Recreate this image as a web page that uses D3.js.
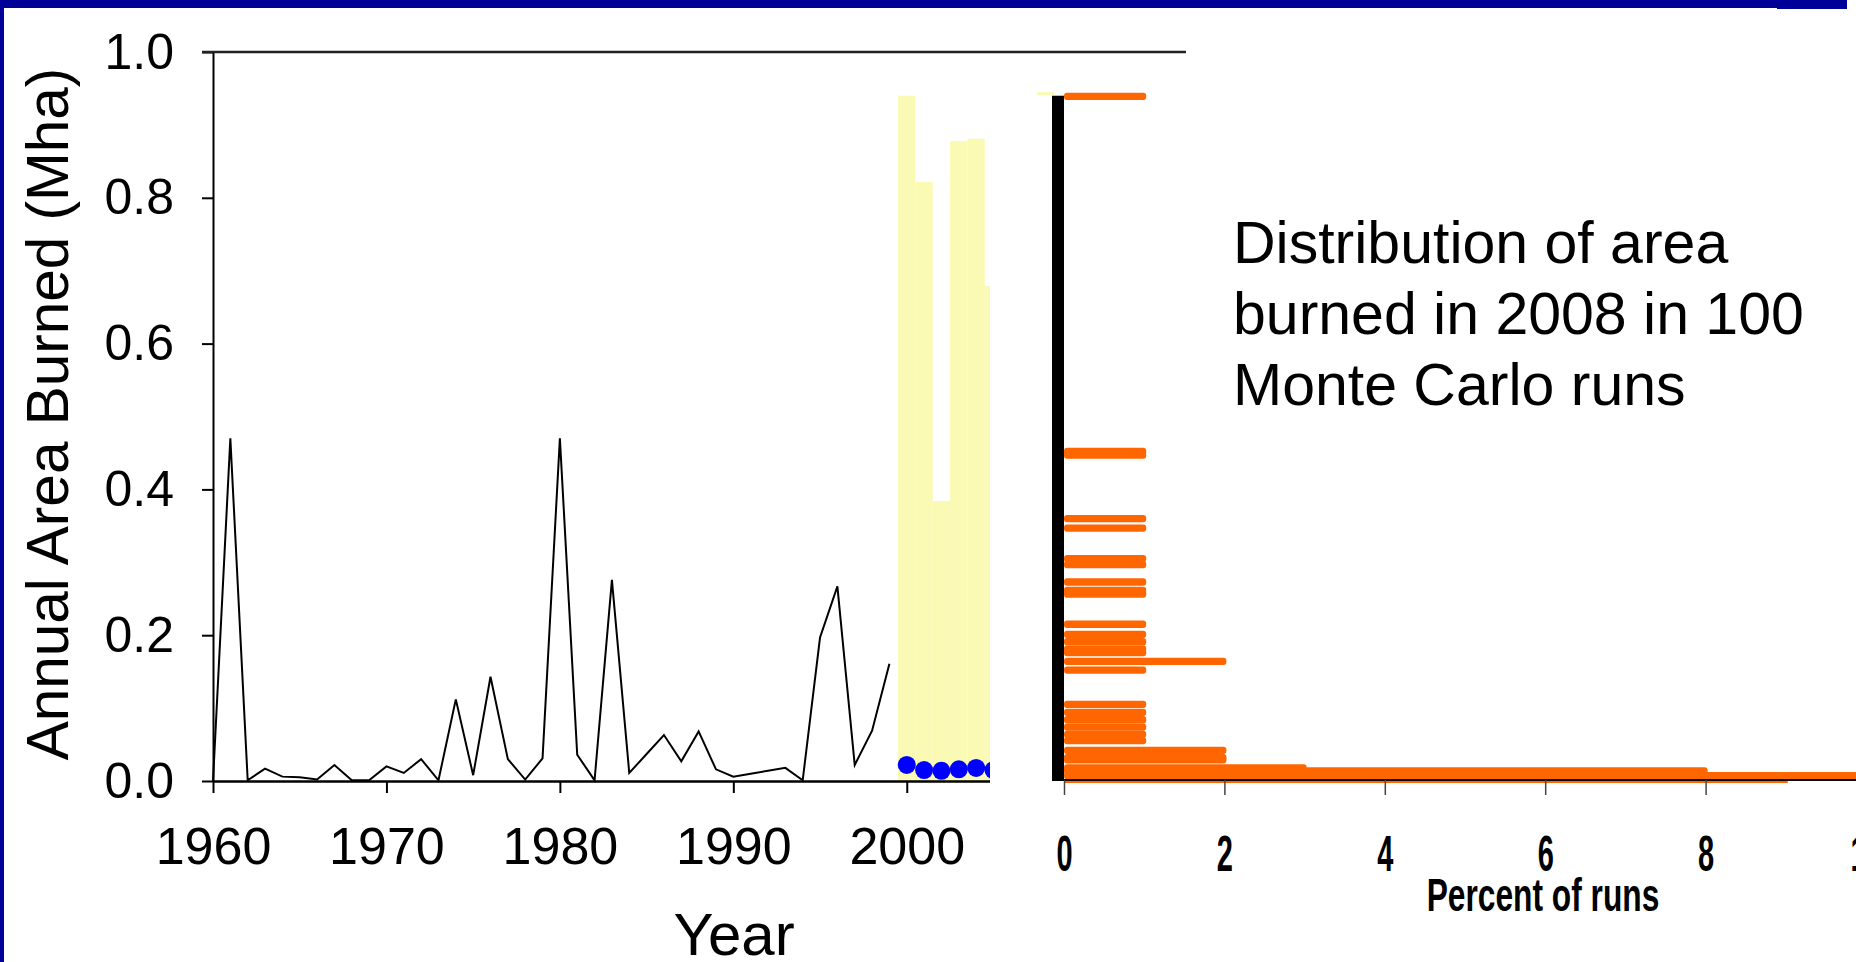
<!DOCTYPE html>
<html>
<head>
<meta charset="utf-8">
<script src="https://cdn.jsdelivr.net/npm/d3@7/dist/d3.min.js"></script>
<style>
  html, body { margin: 0; padding: 0; background: #fff; }
  svg { display: block; font-family: "Liberation Sans", Arial, sans-serif; }
</style>
</head>
<body>
<svg id="chart" width="1856" height="962"></svg>
<script>
// ---------- data ----------
const years = [1960,1961,1962,1963,1964,1965,1966,1967,1968,1969,
               1970,1971,1972,1973,1974,1975,1976,1977,1978,1979,
               1980,1981,1982,1983,1984,1985,1986,1987,1988,1989,
               1990,1991,1992,1993,1994,1995,1996,1997,1998,1999];
const areaBurned = [0.000,0.470,0.001,0.017,0.006,0.005,0.002,0.022,0.001,0.001,
                    0.020,0.011,0.030,0.001,0.112,0.008,0.143,0.030,0.002,0.031,
                    0.470,0.036,0.001,0.276,0.011,0.037,0.063,0.027,0.068,0.016,
                    0.006,0.010,0.014,0.018,0.001,0.197,0.267,0.022,0.069,0.161];

// simulated range (max) per forecast year
const simYears = [2000,2001,2002,2003,2004,2005,2006,2007,2008];
const simMax   = [0.940,0.822,0.384,0.878,0.881,0.679,0.600,0.940,0.945];

// observed values for the forecast years
const obsYears = [2000,2001,2002,2003,2004,2005];
const obsArea  = [0.022,0.015,0.014,0.016,0.018,0.015];

// distribution of 2008 area burned (upper edge of bin, Mha) and percent of runs
const binTop = [0.944,0.457,0.452,0.365,0.352,0.310,0.302,0.278,0.2665,0.2615,
                0.220,0.206,0.196,0.186,0.181,0.169,0.157,0.110,0.099,0.089,
                0.079,0.069,0.0605,0.047,0.037,0.034,0.023,0.019,0.0123,0.0027];
const binPct = [1,1,1,1,1,1,1,1,1,1,
                1,1,1,1,1,2,1,1,1,1,
                1,1,1,2,2,2,3,8,50,9];
const binWidth = 0.01;

const yTicks = [0,0.2,0.4,0.6,0.8,1.0];
const xTicks = [1960,1970,1980,1990,2000];
const pctTicks = [0,2,4,6,8,10];
const noteLines = ["Distribution of area", "burned in 2008 in 100", "Monte Carlo runs"];

// ---------- drawing ----------
const svg = d3.select("#chart");

const xL = d3.scaleLinear().domain([1960, 2016.1]).range([213, 1186]);
const yL = d3.scaleLinear().domain([0, 1]).range([781, 52]);
const xR = d3.scaleLinear().domain([0, 10]).range([1064, 1866]);

// frame (blue)
svg.append("rect").attr("x",0).attr("y",0).attr("width",1777).attr("height",8).attr("fill","#000099");
svg.append("rect").attr("x",1777).attr("y",0).attr("width",70).attr("height",9).attr("fill","#000099");
svg.append("rect").attr("x",0).attr("y",0).attr("width",4).attr("height",962).attr("fill","#000099");

// yellow simulated range bars
svg.append("g").selectAll("rect").data(simYears).join("rect")
  .attr("x", d => xL(d - 0.5))
  .attr("width", d => xL(d + 0.5) - xL(d - 0.5))
  .attr("y", (d,i) => yL(simMax[i]))
  .attr("height", (d,i) => yL(0) - yL(simMax[i]))
  .attr("fill", "#FAFAB4");

// historical line
const line = d3.line().x(d => xL(d[0])).y(d => yL(d[1]));
svg.append("path")
  .datum(years.map((y,i) => [y, areaBurned[i]]))
  .attr("d", line)
  .attr("fill","none").attr("stroke","#000").attr("stroke-width",2).attr("stroke-linejoin","miter");

// y axis
const yAxis = svg.append("g").attr("transform", `translate(${xL(1960)},0)`)
  .call(d3.axisLeft(yL).tickValues(yTicks).tickFormat(d3.format(".1f")).tickSize(11).tickPadding(28).tickSizeOuter(0));
yAxis.select(".domain").attr("stroke","#000").attr("stroke-width",2);
yAxis.selectAll(".tick line").attr("stroke","#000").attr("stroke-width",2);
yAxis.selectAll("text").attr("font-size",50).attr("fill","#000").attr("font-family","Liberation Sans, Arial, sans-serif");

// x axis
const xAxis = svg.append("g").attr("transform", `translate(0,${yL(0)})`)
  .call(d3.axisBottom(xL).tickValues(xTicks).tickFormat(d3.format("d")).tickSize(12).tickPadding(34).tickSizeOuter(0));
xAxis.select(".domain").attr("stroke","#000").attr("stroke-width",2.5);
xAxis.selectAll(".tick line").attr("stroke","#000").attr("stroke-width",2);
xAxis.selectAll("text").attr("font-size",52).attr("fill","#000").attr("font-family","Liberation Sans, Arial, sans-serif");

// top border line
svg.append("line").attr("x1", xL(1960) - 11).attr("x2", xL(2016.1))
  .attr("y1", yL(1)).attr("y2", yL(1)).attr("stroke","#222").attr("stroke-width",2.5);

// observed dots
svg.append("g").selectAll("circle").data(obsYears).join("circle")
  .attr("cx", d => xL(d)).attr("cy", (d,i) => yL(obsArea[i])).attr("r", 9)
  .attr("fill", "#0000FF");

// axis titles
svg.append("text").attr("transform","translate(68,414) rotate(-90)")
  .attr("text-anchor","middle").attr("font-size",58.5).text("Annual Area Burned (Mha)");
svg.append("text").attr("x",734).attr("y",955)
  .attr("text-anchor","middle").attr("font-size",60).text("Year");

// ---------- histogram panel ----------
svg.append("rect").attr("x", 990).attr("y", 95).attr("width", 866).attr("height", 867).attr("fill","#fff");

svg.append("clipPath").attr("id","histClip")
  .append("rect").attr("x", xR(0)).attr("y", 0).attr("width", 1856).attr("height", yL(0) + 2);

const bars = binTop.map((t,i) => ({top: t, pct: binPct[i]})).sort((a,b) => b.top - a.top);
svg.append("g").attr("clip-path","url(#histClip)").selectAll("rect").data(bars).join("rect")
  .attr("x", xR(0))
  .attr("width", d => xR(d.pct) - xR(0) + 2)
  .attr("y", d => yL(d.top))
  .attr("height", d => yL(d.top - binWidth) - yL(d.top))
  .attr("rx", 3)
  .attr("fill", "#FF6600");

// histogram y axis (dense black bar)
svg.append("rect").attr("x", xR(0) - 12).attr("y", yL(0.94)).attr("width", 12)
  .attr("height", yL(0) - yL(0.94)).attr("fill", "#000");

// histogram x axis
const xAxisR = svg.append("g").attr("transform", `translate(0,${yL(0) - 1})`)
  .call(d3.axisBottom(xR).tickValues(pctTicks).tickFormat(d3.format("d")).tickSize(15).tickPadding(41).tickSizeOuter(0));
xAxisR.select(".domain").attr("d", `M${xR(0) - 12},0H1856`).attr("stroke","#000").attr("stroke-width",2);
xAxisR.selectAll(".tick line").attr("stroke","#444").attr("stroke-width",1.5);
xAxisR.selectAll("text").attr("font-size",50).attr("font-weight","bold").attr("fill","#000")
  .attr("font-family","Liberation Sans, Arial, sans-serif")
  .attr("transform","scale(0.58,1)");

svg.append("text").attr("transform","translate(1543,911) scale(0.69,1)")
  .attr("text-anchor","middle").attr("font-size",46).attr("font-weight","bold").text("Percent of runs");

// annotation
svg.append("g").selectAll("text").data(noteLines).join("text")
  .attr("x", 1233).attr("y", (d,i) => 263 + i * 71)
  .attr("font-size", 59).attr("fill","#000").text(d => d);
</script>
</body>
</html>
